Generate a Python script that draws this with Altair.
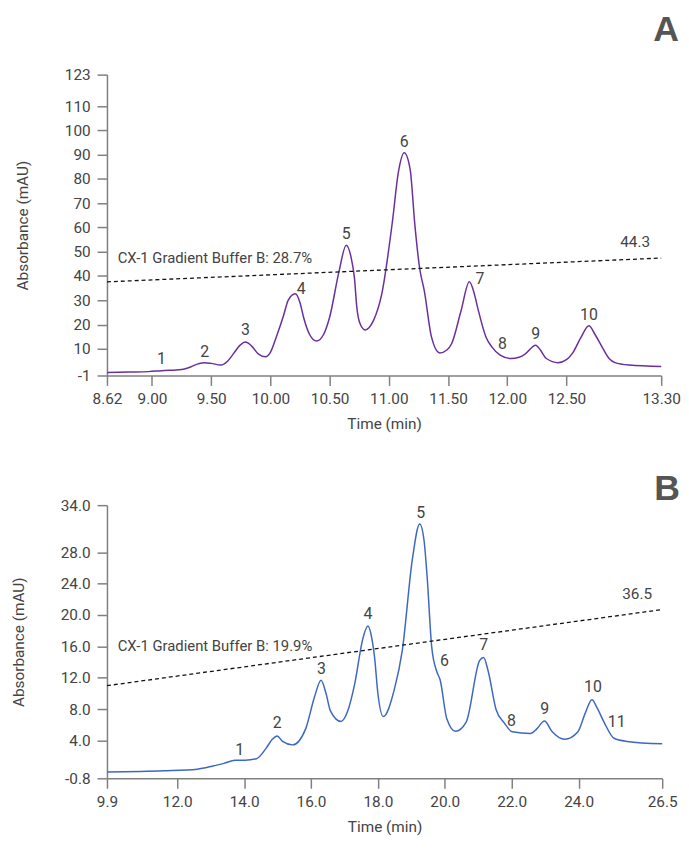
import altair as alt
import pandas as pd

FONT = "Roboto, Liberation Sans, sans-serif"
TEXT_COLOR = "#444444"
AXIS_COLOR = "#808080"

# ---------------- Panel A data ----------------
a_time = [8.62, 8.80, 8.97, 9.08, 9.25, 9.33, 9.39, 9.44, 9.50, 9.58, 9.64, 9.69, 9.74, 9.79,
          9.84, 9.90, 9.96, 10.00, 10.05, 10.11, 10.15, 10.21, 10.25, 10.28, 10.33, 10.39,
          10.45, 10.50, 10.58, 10.64, 10.68, 10.71, 10.73, 10.76, 10.80, 10.87, 10.94, 11.03,
          11.08, 11.13, 11.18, 11.22, 11.26, 11.30, 11.36, 11.43, 11.49, 11.53, 11.61, 11.68,
          11.72, 11.75, 11.82, 11.87, 11.94, 12.03, 12.10, 12.15, 12.24, 12.28, 12.33, 12.43,
          12.50, 12.55, 12.62, 12.69, 12.74, 12.80, 12.86, 12.91, 13.03, 13.30]
a_abs = [0.2, 0.4, 0.6, 1.0, 1.5, 2.6, 3.8, 4.3, 4.0, 3.3, 5.0, 8.1, 11.3, 12.8,
         11.2, 7.8, 6.7, 8.5, 14.9, 23.5, 30.0, 32.7, 29.0, 23.0, 16.0, 13.2,
         16.0, 23.0, 42.0, 52.7, 48.0, 39.0, 27.0, 20.0, 17.8, 21.6, 32.5, 62.3,
         82.6, 90.8, 84.0, 61.0, 43.3, 33.8, 14.9, 8.3, 9.5, 12.1, 25.7, 37.6,
         33.0, 27.0, 14.9, 10.8, 7.4, 6.0, 6.5, 7.8, 11.5, 9.5, 6.0, 4.3,
         5.5, 8.1, 14.5, 19.5, 16.0, 10.8, 6.0, 4.3, 3.3, 2.7]

a_peak_labels = ["1", "2", "3", "4", "5", "6", "7", "8", "9", "10"]
a_peak_t = [9.08, 9.445, 9.79, 10.26, 10.64, 11.13, 11.77, 11.96, 12.24, 12.69]
a_peak_v = [5.9, 8.8, 17.7, 34.8, 57.1, 95.3, 38.8, 12.0, 16.0, 23.8]

a_grad_t = [8.62, 13.30]
a_grad_v = [37.6, 47.4]

a_xticks = [8.62, 9.00, 9.50, 10.00, 10.50, 11.00, 11.50, 12.00, 12.50, 13.30]
a_yticks = [-1, 10, 20, 30, 40, 50, 60, 70, 80, 90, 100, 110, 123]

# ---------------- Panel B data ----------------
b_time = [9.9, 11.6, 12.6, 13.1, 13.4, 13.73, 14.03, 14.37, 14.66, 14.85, 14.99, 15.15, 15.45,
          15.84, 16.1, 16.3, 16.45, 16.58, 16.9, 17.1, 17.31, 17.55, 17.7, 17.82, 17.9, 18.0,
          18.16, 18.49, 18.73, 19.03, 19.25, 19.38, 19.47, 19.61, 19.76, 19.86, 20.06, 20.32,
          20.64, 21.04, 21.16, 21.3, 21.53, 21.77, 22.02, 22.56, 22.75, 22.98, 23.2, 23.59,
          23.98, 24.2, 24.4, 24.55, 24.76, 25.06, 25.45, 26.5]
b_abs = [0.0, 0.15, 0.36, 0.8, 1.1, 1.5, 1.5, 1.7, 3.05, 4.2, 4.6, 3.9, 3.46,
         5.5, 9.5, 11.7, 10.0, 7.8, 6.45, 7.8, 11.3, 17.0, 18.6, 17.0, 14.65, 10.0,
         7.07, 10.5, 15.5, 27.1, 31.6, 29.5, 25.0, 15.9, 12.8, 11.75, 6.8, 5.2,
         6.37, 14.2, 14.6, 12.8, 8.0, 6.3, 5.13, 4.9, 5.5, 6.5, 5.2, 4.17,
         5.13, 7.5, 9.2, 8.2, 6.37, 4.3, 3.9, 3.59]

b_peak_labels = ["1", "2", "3", "4", "5", "6", "7", "8", "9", "10", "11"]
b_peak_t = [13.87, 14.99, 16.31, 17.7, 19.28, 19.99, 21.16, 21.99, 22.99, 24.43, 25.14]
b_peak_v = [2.8, 6.2, 13.1, 20.1, 33.0, 14.1, 16.2, 6.5, 8.0, 10.8, 6.4]

b_grad_t = [9.9, 26.5]
b_grad_v = [11.0, 20.7]

b_xticks = [9.9, 12.0, 14.0, 16.0, 18.0, 20.0, 22.0, 24.0, 26.5]
b_yticks = [-0.8, 4.0, 8.0, 12.0, 16.0, 20.0, 24.0, 28.0, 34.0]


def hyphen_label(fmt):
    return (f"datum.value < 0 ? '-' + format(-datum.value, '{fmt}') "
            f": format(datum.value, '{fmt}')")


def panel(time, absb, color, peak_labels, peak_t, peak_v, grad_t, grad_v,
          grad_text, grad_text_t, grad_text_v, end_text, end_t, end_v,
          xdomain, ydomain, xticks, yticks, xfmt, yfmt, letter, letter_dy, width, height):
    xscale = alt.Scale(domain=xdomain, nice=False, zero=False)
    yscale = alt.Scale(domain=ydomain, nice=False, zero=False)
    xaxis = alt.Axis(values=xticks, format=xfmt, title="Time (min)", tickCount=40,
                     labelOverlap=False, labelFlush=False, labelBound=False)
    yaxis = alt.Axis(values=yticks, title="Absorbance (mAU)", tickCount=40,
                     labelExpr=hyphen_label(yfmt),
                     labelOverlap=False, labelFlush=False, labelBound=False)

    curve = pd.DataFrame({"t": time, "v": absb})
    line = alt.Chart(curve).mark_line(color=color, strokeWidth=1.5, interpolate="monotone").encode(
        x=alt.X("t:Q", scale=xscale, axis=xaxis),
        y=alt.Y("v:Q", scale=yscale, axis=yaxis),
    )

    grad = pd.DataFrame({"t": grad_t, "v": grad_v})
    dash = alt.Chart(grad).mark_line(color="#111111", strokeWidth=1.3, strokeDash=[4, 3]).encode(
        x="t:Q", y="v:Q"
    )

    labels = pd.DataFrame({"t": peak_t, "v": peak_v, "lab": peak_labels})
    peak_text = alt.Chart(labels).mark_text(
        font=FONT, fontSize=16, color=TEXT_COLOR, baseline="middle", align="center"
    ).encode(x="t:Q", y="v:Q", text="lab:N")

    gt = pd.DataFrame({"t": [grad_text_t], "v": [grad_text_v], "lab": [grad_text]})
    grad_label = alt.Chart(gt).mark_text(
        font=FONT, fontSize=15, color=TEXT_COLOR, baseline="middle", align="left"
    ).encode(x="t:Q", y="v:Q", text="lab:N")

    et = pd.DataFrame({"t": [end_t], "v": [end_v], "lab": [end_text]})
    end_label = alt.Chart(et).mark_text(
        font=FONT, fontSize=15.5, color=TEXT_COLOR, baseline="middle", align="center"
    ).encode(x="t:Q", y="v:Q", text="lab:N")

    letter_mark = alt.Chart(pd.DataFrame({"lab": [letter]})).mark_text(
        font="Liberation Sans, Arial, sans-serif", fontSize=36, fontWeight="bold",
        color="#555555", baseline="middle", align="center"
    ).encode(x=alt.value(width + 5), y=alt.value(letter_dy), text="lab:N")

    return alt.layer(line, dash, peak_text, grad_label, end_label, letter_mark).properties(
        width=width, height=height
    )


chart_a = panel(a_time, a_abs, "#6a2f9e", a_peak_labels, a_peak_t, a_peak_v, a_grad_t, a_grad_v,
                "CX-1 Gradient Buffer B: 28.7%", 8.71, 47.4, "44.3", 13.08, 53.9,
                [8.62, 13.30], [-1, 123], a_xticks, a_yticks, ".2f", "d", "A", -45, 560, 304)

chart_b = panel(b_time, b_abs, "#3d68c2", b_peak_labels, b_peak_t, b_peak_v, b_grad_t, b_grad_v,
                "CX-1 Gradient Buffer B: 19.9%", 10.22, 16.1, "36.5", 25.75, 22.7,
                [9.9, 26.5], [-0.8, 34.0], b_xticks, b_yticks, ".1f", ".1f", "B", -16, 561, 276)

chart = alt.vconcat(chart_a, chart_b, spacing=40).properties(
    padding={"left": 3, "top": 0, "right": 0, "bottom": 0}
).configure_view(
    stroke=None
).configure_axis(
    grid=False,
    domainColor=AXIS_COLOR,
    domainWidth=1.5,
    tickColor=AXIS_COLOR,
    tickWidth=1.5,
    tickSize=10,
    labelFont=FONT,
    labelFontSize=15.5,
    labelColor=TEXT_COLOR,
    labelPadding=6,
    titleFont=FONT,
    titleFontSize=15.5,
    titleFontWeight="normal",
    titleColor=TEXT_COLOR,
).configure_axisY(titlePadding=34, labelPadding=7).configure_axisX(titlePadding=10)

chart.save("out.html", embed_options={"renderer": "svg", "actions": False})
